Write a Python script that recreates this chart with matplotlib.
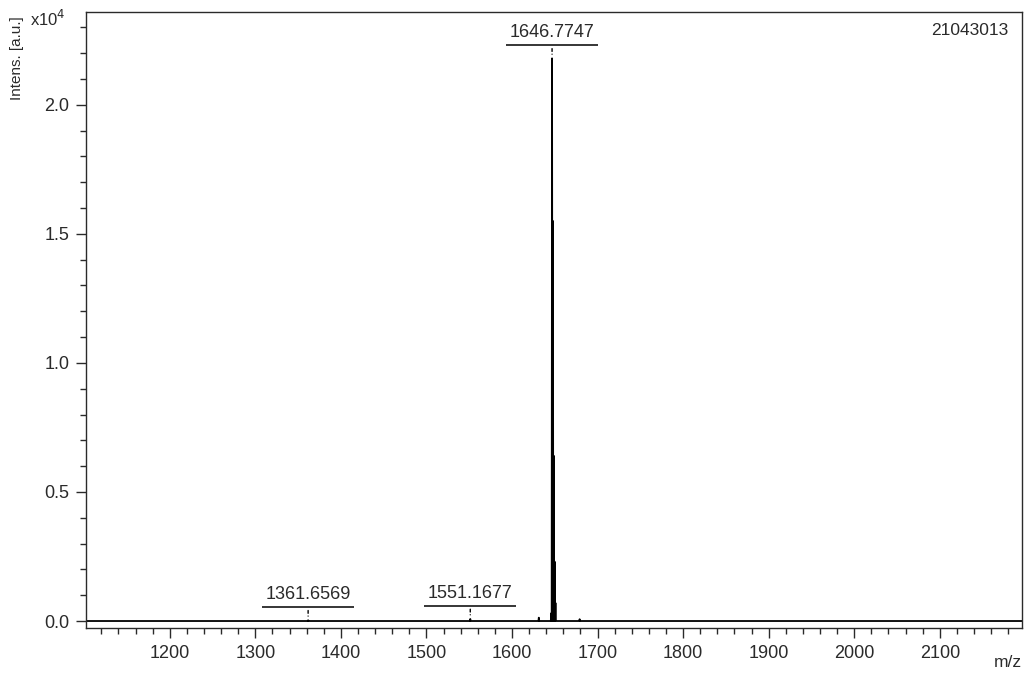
import matplotlib
matplotlib.use("Agg")
import matplotlib.pyplot as plt
from matplotlib.ticker import MultipleLocator, FuncFormatter
from matplotlib.transforms import offset_copy

plt.rcParams['font.family'] = ['Liberation Sans', 'DejaVu Sans']

# peak list (m/z, intensity in a.u.)
peak_mz = [1361.6569, 1551.1677, 1631.3, 1645.77, 1646.7747, 1647.77, 1648.77, 1649.77, 1650.77, 1679.0]
peak_int = [30, 80, 130, 300, 21800, 15500, 6400, 2300, 700, 70]

# labelled peaks
label_mz = [1361.6569, 1551.1677, 1646.7747]
label_int = [30, 80, 21800]
label_txt = ["1361.6569", "1551.1677", "1646.7747"]

sample_id = "21043013"
xlim = (1102, 2196)
ylim = (-270, 23600)

# build the profile line: baseline with a narrow triangle at every peak
xs = [xlim[0]]
ys = [0]
for mz, h in sorted(zip(peak_mz, peak_int)):
    xs += [mz - 0.45, mz, mz + 0.45]
    ys += [0, h, 0]
xs.append(xlim[1])
ys.append(0)

fig = plt.figure(figsize=(10.27, 6.8), dpi=100)
ax = fig.add_axes([0.0837, 0.0765, 0.9114, 0.906])
ax.plot(xs, ys, color='black', lw=1.3)

ax.set_xlim(*xlim)
ax.set_ylim(*ylim)

# peak labels: text, underline and a short dashed marker above the peak
under = offset_copy(ax.transData, fig=fig, x=0, y=9.5, units='points')
for mz, h, txt in zip(label_mz, label_int, label_txt):
    ax.plot([mz - 54, mz + 54], [h, h], color='black', lw=1.1, transform=under,
            solid_capstyle='butt')
    ax.annotate(txt, xy=(mz, h), xytext=(0, 12.5), textcoords='offset points',
                ha='center', va='bottom', fontsize=13, color='#2a2a2a')
    ax.annotate('', xy=(mz, h), xytext=(0, 7), textcoords='offset points',
                arrowprops=dict(arrowstyle='-', lw=1.0, ls=(0, (2, 2)),
                                color='black', shrinkA=0, shrinkB=3))

ax.xaxis.set_major_locator(MultipleLocator(100))
ax.xaxis.set_minor_locator(MultipleLocator(20))
ax.yaxis.set_major_locator(MultipleLocator(5000))
ax.yaxis.set_minor_locator(MultipleLocator(1000))
ax.yaxis.set_major_formatter(FuncFormatter(lambda v, p: f"{v / 1e4:.1f}"))

for s in ax.spines.values():
    s.set_color('#2a2a2a')
    s.set_linewidth(1.0)
ax.tick_params(which='major', direction='out', length=7, width=1, colors='#2a2a2a',
               labelsize=13, labelcolor='#2a2a2a', pad=5)
ax.tick_params(which='minor', direction='out', length=4, width=1, colors='#2a2a2a')

fig.text(0.0165, 0.915, "Intens. [a.u.]", rotation=90, ha='center', va='center',
         fontsize=11, color='#2a2a2a')
fig.text(0.029, 0.972, "x10$^4$", ha='left', va='center', fontsize=12, color='#2a2a2a')
fig.text(0.995, 0.015, "m/z", ha='right', va='bottom', fontsize=12.5, color='#2a2a2a')
ax.text(0.986, 0.97, sample_id, transform=ax.transAxes, ha='right', va='center',
        fontsize=12.5, color='#2a2a2a')

fig.savefig("out.png", dpi=100)
